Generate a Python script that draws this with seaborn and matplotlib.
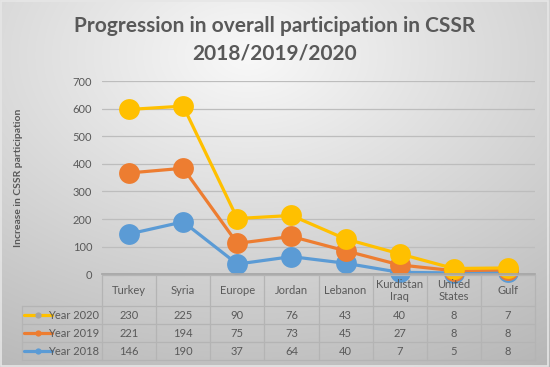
import numpy as np
import pandas as pd
import matplotlib
matplotlib.use('Agg')
import matplotlib.pyplot as plt
import seaborn as sns
from matplotlib.lines import Line2D

regions = ['Turkey', 'Syria', 'Europe', 'Jordan', 'Lebanon',
           'Kurdistan Iraq', 'United States', 'Gulf']
header_labels = ['Turkey', 'Syria', 'Europe', 'Jordan', 'Lebanon',
                 'Kurdistan\nIraq', 'United\nStates', 'Gulf']
year_2018 = [146, 190, 37, 64, 40, 7, 5, 8]
year_2019 = [221, 194, 75, 73, 45, 27, 8, 8]
year_2020 = [230, 225, 90, 76, 43, 40, 8, 7]
years = ['Year 2018', 'Year 2019', 'Year 2020']
colors = {'Year 2018': '#5B9BD5', 'Year 2019': '#ED7D31', 'Year 2020': '#FFC000'}
legend_dot = {'Year 2018': '#5B9BD5', 'Year 2019': '#ED7D31', 'Year 2020': '#A5A5A5'}

sns.set_theme(style='white')
plt.rcParams['font.family'] = ['Lato', 'DejaVu Sans']
txt = '#595959'
fs = 8

# stacked line chart: each series sits on top of the previous ones
vals = np.array([year_2018, year_2019, year_2020])
stacked = vals.cumsum(axis=0)
rows = []
for i, y in enumerate(years):
    for j, r in enumerate(regions):
        rows.append({'Region': r, 'Year': y, 'Total': stacked[i, j]})
df = pd.DataFrame(rows)

W, H = 550, 367
fig = plt.figure(figsize=(W / 100, H / 100), dpi=100)

# radial grey background
bg = fig.add_axes([0, 0, 1, 1], zorder=0)
yy, xx = np.mgrid[0:H, 0:W]
r = np.sqrt(((xx - 0.45 * W) / W) ** 2 + ((yy - 0.15 * H) / H) ** 2)
shade = np.clip(0.975 - 0.26 * r, 0, 1)
bg.imshow(np.dstack([shade] * 3), aspect='auto', extent=[0, 1, 0, 1])
bg.set_xlim(0, 1)
bg.set_ylim(0, 1)
bg.axis('off')
bg.add_patch(plt.Rectangle((0.002, 0.003), 0.995, 0.994, fill=False,
                           ec='#e6e6e6', lw=1.2, transform=bg.transAxes))

left, right, top, bot = 102, 535, 81, 274.3
ax = fig.add_axes([left / W, 1 - bot / H, (right - left) / W, (bot - top) / H], zorder=2)
ax.patch.set_alpha(0)

sns.lineplot(data=df, x='Region', y='Total', hue='Year', hue_order=years,
             palette=colors, marker='o', markersize=15, markeredgewidth=0,
             linewidth=2.3, legend=False, sort=False, ax=ax)
for ln in ax.lines:
    ln.set_clip_on(False)

ax.set_xlim(-0.5, 7.5)
ax.set_ylim(0, 700)
ax.set_yticks(range(0, 701, 100))
ax.yaxis.grid(True, color='#bdbdbd', lw=0.9)
ax.set_axisbelow(True)
ax.tick_params(axis='y', length=0, pad=7, labelsize=fs, labelcolor=txt)
ax.tick_params(axis='x', length=0, labelbottom=False)
ax.set_xlabel('')
ax.set_ylabel('Increase in CSSR participation', fontsize=7.5,
              fontweight='bold', color=txt)
ax.yaxis.set_label_coords((23 - left) / (right - left), 0.5)
for s in ['left', 'right', 'top']:
    ax.spines[s].set_visible(False)
ax.spines['bottom'].set_color('#a6a6a6')

# data table under the chart, drawn in pixel positions
cell_rows = [year_2020, year_2019, year_2018]
row_labels = ['Year 2020', 'Year 2019', 'Year 2018']
tab_left = 22
cw = (right - left) / len(regions)
row_edges = [275, 306, 324.2, 342.3, 360]
edge_c = '#b4b4b4'


def fx(px):
    return px / W


def fy(py):
    return 1 - py / H


# horizontal lines
fig.add_artist(Line2D([fx(left), fx(right)], [fy(row_edges[0])] * 2,
                      color=edge_c, lw=0.9, zorder=3))
for ye in row_edges[1:]:
    fig.add_artist(Line2D([fx(tab_left), fx(right)], [fy(ye)] * 2,
                          color=edge_c, lw=0.9, zorder=3))
# vertical lines
fig.add_artist(Line2D([fx(tab_left)] * 2, [fy(row_edges[1]), fy(row_edges[-1])],
                      color=edge_c, lw=0.9, zorder=3))
for k in range(len(regions) + 1):
    xe = left + k * cw
    fig.add_artist(Line2D([fx(xe)] * 2, [fy(row_edges[0]), fy(row_edges[-1])],
                          color=edge_c, lw=0.9, zorder=3))

# header text
for k, lab in enumerate(header_labels):
    fig.text(fx(left + (k + 0.5) * cw), fy((row_edges[0] + row_edges[1]) / 2), lab,
             ha='center', va='center', fontsize=fs, color=txt,
             linespacing=1.2, zorder=4)
# body text + legend keys
for i, (lab, vals_row) in enumerate(zip(row_labels, cell_rows)):
    yc = (row_edges[i + 1] + row_edges[i + 2]) / 2
    for k, v in enumerate(vals_row):
        fig.text(fx(left + (k + 0.5) * cw), fy(yc), str(v), ha='center',
                 va='center', fontsize=fs, color=txt, zorder=4)
    fig.text(fx(99.5), fy(yc), lab, ha='right', va='center', fontsize=fs,
             color=txt, zorder=4)
    fig.add_artist(Line2D([fx(24), fx(52)], [fy(yc)] * 2, color=colors[lab],
                          lw=2.3, zorder=4))
    fig.add_artist(Line2D([fx(37.5)], [fy(yc)], marker='o', color=legend_dot[lab],
                          markersize=4.5, markeredgewidth=0, zorder=5))

fig.text(0.5, 1 - 26 / H, 'Progression in overall participation in CSSR',
         ha='center', va='center', fontsize=15, fontweight='bold', color=txt)
fig.text(0.5, 1 - 54 / H, '2018/2019/2020',
         ha='center', va='center', fontsize=15, fontweight='bold', color=txt)

fig.savefig('out.png', dpi=100)
